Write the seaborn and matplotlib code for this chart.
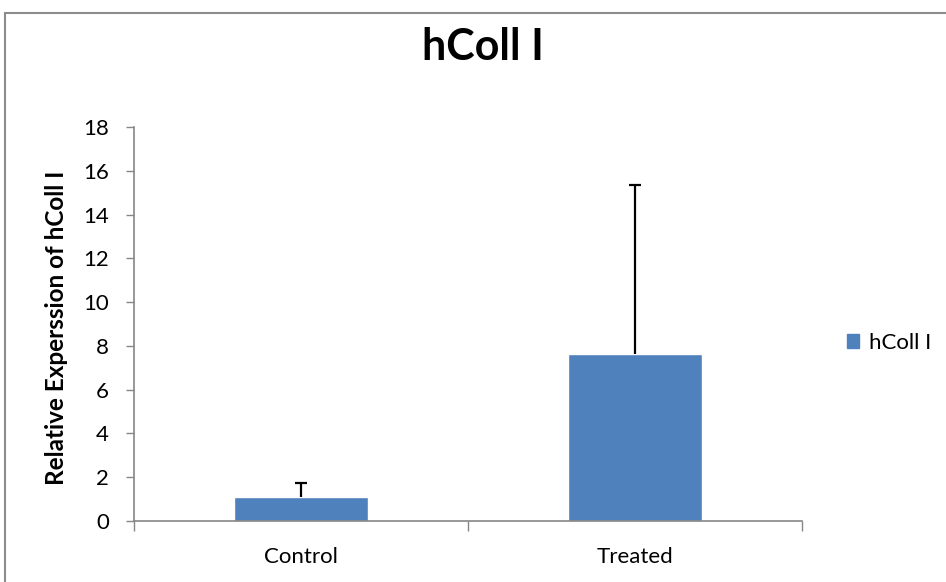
import matplotlib
matplotlib.use("Agg")
import matplotlib.pyplot as plt
import seaborn as sns
from matplotlib.patches import Patch, Rectangle

# data
groups = ["Control", "Treated"]
expression = [1.08, 7.65]
upper_err = [0.67, 7.7]
series_name = "hColl I"

bar_color = "#4F81BD"
axis_gray = "#868686"

sns.set_style("white")
plt.rcParams["font.family"] = ["Lato", "DejaVu Sans"]
plt.rcParams["text.color"] = "black"
plt.rcParams["axes.labelcolor"] = "black"
plt.rcParams["xtick.color"] = "black"
plt.rcParams["ytick.color"] = "black"

fig = plt.figure(figsize=(9.46, 5.82), dpi=100)
ax = fig.add_axes([0.1416, 0.1048, 0.7062, 0.677])

sns.barplot(x=groups, y=expression, color=bar_color, saturation=1,
            width=0.4, errorbar=None, ax=ax)

# one-sided (upper) error bars like the excel original
_, caps, _ = ax.errorbar(x=[0, 1], y=expression, yerr=[[0, 0], upper_err],
                         fmt="none", ecolor="black", elinewidth=1.6,
                         capsize=4.5, capthick=1.6)
caps[0].set_visible(False)  # drop the lower cap

ax.set_xlim(-0.5, 1.5)
ax.set_ylim(0, 18)
ax.set_yticks(range(0, 19, 2))
ax.set_xticks([-0.5, 0.5, 1.5], minor=True)
ax.tick_params(axis="x", which="major", length=0, labelsize=16, pad=19)
ax.tick_params(axis="x", which="minor", length=7, width=1, color=axis_gray,
               direction="out", bottom=True)
ax.tick_params(axis="y", length=6, width=1, color=axis_gray, direction="out",
               labelsize=16, pad=12, left=True)

for side in ["top", "right"]:
    ax.spines[side].set_visible(False)
for side in ["left", "bottom"]:
    ax.spines[side].set_color(axis_gray)
    ax.spines[side].set_linewidth(1.2)

ax.set_xlabel("")
ax.set_ylabel("Relative Experssion of hColl I", fontsize=17.5,
              fontweight="bold")
ax.yaxis.set_label_coords(-0.099, 0.49)

fig.text(0.511, 0.92, "hColl I", ha="center", va="center", fontsize=31,
         fontweight="bold")

handle = Patch(facecolor=bar_color, edgecolor=bar_color)
fig.legend(handles=[handle], labels=[series_name], loc="center left",
           bbox_to_anchor=(0.874, 0.411), frameon=False, fontsize=16,
           handlelength=0.55, handleheight=0.55, handletextpad=0.45)

# chart area border
fig.patches.append(Rectangle((5 / 946, -0.05), 1.0, 1.05 - 13 / 582,
                             transform=fig.transFigure, fill=False,
                             edgecolor="#8c8c8c", linewidth=1.5))

fig.savefig("out.png", dpi=100)
